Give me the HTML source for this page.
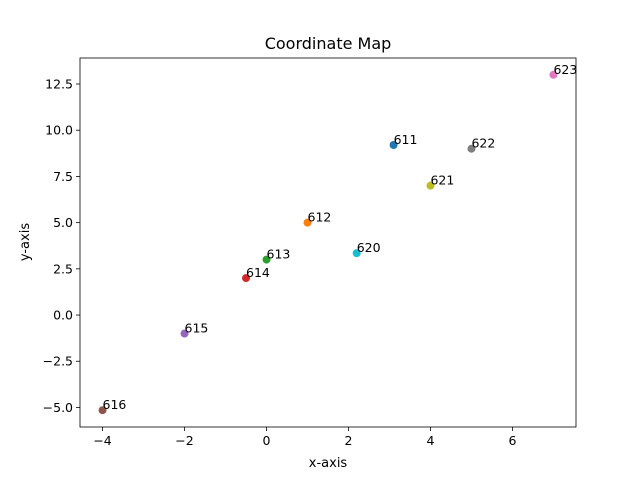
<!DOCTYPE html>
<html><head><meta charset="utf-8"><style>
body{margin:0;background:#fff}
svg{font-family:"DejaVu Sans","Liberation Sans",sans-serif}
</style></head><body>
<svg id="chart" width="640" height="480" xmlns="http://www.w3.org/2000/svg">
<rect width="640" height="480" fill="#fff"/>
<text x="328" y="49" text-anchor="middle" font-size="16">Coordinate Map</text>
<g id="plot"></g>
<rect x="80" y="58" width="496" height="369" fill="none" stroke="#000" stroke-width="0.8"/>
<text x="328" y="467" text-anchor="middle" font-size="13">x-axis</text>
<text x="0" y="0" transform="translate(29,242) rotate(-90)" text-anchor="middle" font-size="13">y-axis</text>
</svg>
<script>
const labels=["611","612","613","614","615","616","620","621","622","623"];
const xs=[3.1,1,0,-0.5,-2,-4,2.2,4,5,7];
const ys=[9.2,5,3,2,-1,-5.15,3.35,7,9,13];
const colors=["#1f77b4","#ff7f0e","#2ca02c","#d62728","#9467bd","#8c564b","#17becf","#bcbd22","#7f7f7f","#e377c2"];
const xTicks=[-4,-2,0,2,4,6];
const yTicks=[-5,-2.5,0,2.5,5,7.5,10,12.5];
const X0=80,X1=576,Y0=427,Y1=58;
const xmin=Math.min(...xs),xmax=Math.max(...xs),ymin=Math.min(...ys),ymax=Math.max(...ys);
const xlo=xmin-(xmax-xmin)*0.05,xhi=xmax+(xmax-xmin)*0.05;
const ylo=ymin-(ymax-ymin)*0.05,yhi=ymax+(ymax-ymin)*0.05;
const sx=v=>X0+(v-xlo)/(xhi-xlo)*(X1-X0);
const sy=v=>Y0-(v-ylo)/(yhi-ylo)*(Y0-Y1);
const NS="http://www.w3.org/2000/svg";
const g=document.getElementById("plot");
function mk(t,a){const e=document.createElementNS(NS,t);for(const k in a)e.setAttribute(k,a[k]);g.appendChild(e);return e;}
xTicks.forEach(t=>{
  const l=mk("line",{x1:sx(t),x2:sx(t),y1:Y0,y2:Y0+4,stroke:"#000","stroke-width":0.8});
  
  
  const tx=mk("text",{x:sx(t),y:Y0+18,"text-anchor":"middle","font-size":12.5});
  tx.textContent=t<0?"\u2212"+(-t):String(t);
  
  
});
yTicks.forEach(t=>{
  const l=mk("line",{x1:X0-4,x2:X0,y1:sy(t),y2:sy(t),stroke:"#000","stroke-width":0.8});
  
  
  const tx=mk("text",{x:X0-7,y:sy(t)+4.5,"text-anchor":"end","font-size":12.5});
  tx.textContent=(t<0?"\u2212":"")+Math.abs(t).toFixed(1);
  
  
});
labels.forEach((lb,i)=>{
  const c=mk("circle",{cx:sx(xs[i]),cy:sy(ys[i]),r:4,fill:colors[i]});
  
  
  const t=mk("text",{x:sx(xs[i]),y:sy(ys[i])-1,"font-size":12.5});
  t.textContent=lb;
  
  
});
</script>
</body></html>
